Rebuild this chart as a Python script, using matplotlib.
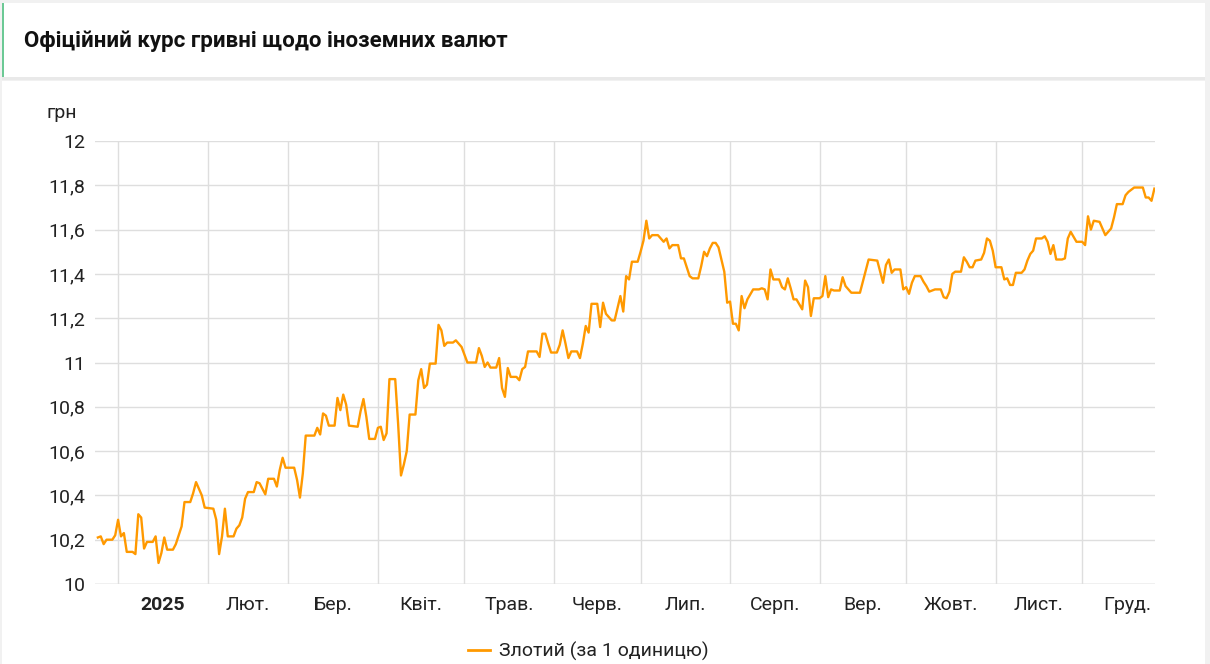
import matplotlib
matplotlib.use('Agg')
import matplotlib.pyplot as plt
from matplotlib.patches import Rectangle
from matplotlib.lines import Line2D
from matplotlib.ticker import FuncFormatter
import pandas as pd

# NBU rate, UAH per 1 PLN
dates = [
    "2024-12-25", "2024-12-26", "2024-12-27", "2024-12-28", "2024-12-30", "2024-12-31",
    "2025-01-01", "2025-01-02", "2025-01-03", "2025-01-04", "2025-01-06", "2025-01-07",
    "2025-01-08", "2025-01-09", "2025-01-10", "2025-01-11", "2025-01-13", "2025-01-14",
    "2025-01-15", "2025-01-16", "2025-01-17", "2025-01-18", "2025-01-20", "2025-01-21",
    "2025-01-22", "2025-01-23", "2025-01-24", "2025-01-26", "2025-01-27", "2025-01-28",
    "2025-01-30", "2025-01-31", "2025-02-03", "2025-02-04", "2025-02-05", "2025-02-06",
    "2025-02-07", "2025-02-08", "2025-02-10", "2025-02-11", "2025-02-12", "2025-02-13",
    "2025-02-14", "2025-02-15", "2025-02-17", "2025-02-18", "2025-02-19", "2025-02-21",
    "2025-02-22", "2025-02-24", "2025-02-25", "2025-02-26", "2025-02-27", "2025-02-28",
    "2025-03-03", "2025-03-04", "2025-03-05", "2025-03-06", "2025-03-07", "2025-03-10",
    "2025-03-11", "2025-03-12", "2025-03-13", "2025-03-14", "2025-03-15", "2025-03-17",
    "2025-03-18", "2025-03-19", "2025-03-20", "2025-03-21", "2025-03-22", "2025-03-25",
    "2025-03-26", "2025-03-27", "2025-03-28", "2025-03-29", "2025-03-31", "2025-04-01",
    "2025-04-02", "2025-04-03", "2025-04-04", "2025-04-05", "2025-04-07", "2025-04-08",
    "2025-04-09", "2025-04-10", "2025-04-11", "2025-04-12", "2025-04-14", "2025-04-15",
    "2025-04-16", "2025-04-17", "2025-04-18", "2025-04-19", "2025-04-21", "2025-04-22",
    "2025-04-23", "2025-04-24", "2025-04-25", "2025-04-27", "2025-04-28", "2025-04-30",
    "2025-05-01", "2025-05-02", "2025-05-05", "2025-05-06", "2025-05-07", "2025-05-08",
    "2025-05-09", "2025-05-10", "2025-05-12", "2025-05-13", "2025-05-14", "2025-05-15",
    "2025-05-16", "2025-05-17", "2025-05-19", "2025-05-20", "2025-05-21", "2025-05-22",
    "2025-05-23", "2025-05-26", "2025-05-27", "2025-05-28", "2025-05-29", "2025-05-30",
    "2025-05-31", "2025-06-02", "2025-06-03", "2025-06-04", "2025-06-05", "2025-06-06",
    "2025-06-07", "2025-06-09", "2025-06-10", "2025-06-11", "2025-06-12", "2025-06-13",
    "2025-06-14", "2025-06-16", "2025-06-17", "2025-06-18", "2025-06-19", "2025-06-21",
    "2025-06-22", "2025-06-24", "2025-06-25", "2025-06-26", "2025-06-27", "2025-06-28",
    "2025-06-30", "2025-07-01", "2025-07-02", "2025-07-03", "2025-07-04", "2025-07-05",
    "2025-07-07", "2025-07-08", "2025-07-09", "2025-07-10", "2025-07-11", "2025-07-12",
    "2025-07-14", "2025-07-15", "2025-07-16", "2025-07-18", "2025-07-19", "2025-07-21",
    "2025-07-22", "2025-07-23", "2025-07-24", "2025-07-25", "2025-07-26", "2025-07-27",
    "2025-07-28", "2025-07-29", "2025-07-30", "2025-07-31", "2025-08-01", "2025-08-02",
    "2025-08-03", "2025-08-04", "2025-08-05", "2025-08-06", "2025-08-07", "2025-08-09",
    "2025-08-11", "2025-08-12", "2025-08-13", "2025-08-14", "2025-08-15", "2025-08-16",
    "2025-08-18", "2025-08-19", "2025-08-20", "2025-08-21", "2025-08-22", "2025-08-23",
    "2025-08-24", "2025-08-26", "2025-08-27", "2025-08-28", "2025-08-29", "2025-08-30",
    "2025-09-01", "2025-09-02", "2025-09-03", "2025-09-04", "2025-09-05", "2025-09-06",
    "2025-09-08", "2025-09-09", "2025-09-10", "2025-09-12", "2025-09-15", "2025-09-16",
    "2025-09-17", "2025-09-18", "2025-09-21", "2025-09-23", "2025-09-24", "2025-09-25",
    "2025-09-26", "2025-09-27", "2025-09-29", "2025-09-30", "2025-10-01", "2025-10-02",
    "2025-10-03", "2025-10-04", "2025-10-06", "2025-10-07", "2025-10-08", "2025-10-09",
    "2025-10-11", "2025-10-13", "2025-10-14", "2025-10-15", "2025-10-16", "2025-10-17",
    "2025-10-18", "2025-10-20", "2025-10-21", "2025-10-22", "2025-10-23", "2025-10-24",
    "2025-10-25", "2025-10-27", "2025-10-28", "2025-10-29", "2025-10-30", "2025-10-31",
    "2025-11-01", "2025-11-03", "2025-11-04", "2025-11-05", "2025-11-06", "2025-11-07",
    "2025-11-08", "2025-11-10", "2025-11-11", "2025-11-12", "2025-11-13", "2025-11-14",
    "2025-11-15", "2025-11-17", "2025-11-18", "2025-11-19", "2025-11-20", "2025-11-21",
    "2025-11-22", "2025-11-24", "2025-11-25", "2025-11-26", "2025-11-27", "2025-11-29",
    "2025-12-01", "2025-12-02", "2025-12-03", "2025-12-04", "2025-12-05", "2025-12-07",
    "2025-12-09", "2025-12-10", "2025-12-11", "2025-12-12", "2025-12-13", "2025-12-15",
    "2025-12-16", "2025-12-17", "2025-12-19", "2025-12-22", "2025-12-23", "2025-12-24",
    "2025-12-25", "2025-12-26",
]
rates = [
    10.21, 10.215, 10.18, 10.20, 10.20, 10.22,
    10.29, 10.215, 10.23, 10.145, 10.145, 10.135,
    10.315, 10.30, 10.16, 10.19, 10.19, 10.215,
    10.095, 10.14, 10.21, 10.155, 10.155, 10.18,
    10.22, 10.26, 10.37, 10.37, 10.41, 10.46,
    10.40, 10.345, 10.34, 10.29, 10.135, 10.215,
    10.34, 10.215, 10.215, 10.25, 10.265, 10.30,
    10.385, 10.415, 10.415, 10.46, 10.455, 10.405,
    10.475, 10.475, 10.44, 10.515, 10.57, 10.525,
    10.525, 10.47, 10.39, 10.50, 10.67, 10.67,
    10.705, 10.675, 10.77, 10.76, 10.715, 10.715,
    10.84, 10.785, 10.855, 10.81, 10.715, 10.71,
    10.78, 10.835, 10.755, 10.655, 10.655, 10.705,
    10.71, 10.65, 10.68, 10.925, 10.925, 10.725,
    10.49, 10.54, 10.60, 10.765, 10.765, 10.92,
    10.97, 10.885, 10.90, 10.995, 10.995, 11.17,
    11.145, 11.075, 11.09, 11.09, 11.10, 11.07,
    11.035, 11.0, 11.0, 11.065, 11.03, 10.98,
    11.0, 10.977, 10.977, 11.02, 10.885, 10.845,
    10.975, 10.935, 10.935, 10.92, 10.97, 10.98,
    11.05, 11.05, 11.025, 11.13, 11.13, 11.085,
    11.045, 11.045, 11.08, 11.145, 11.085, 11.02,
    11.05, 11.05, 11.02, 11.085, 11.165, 11.135,
    11.265, 11.265, 11.16, 11.27, 11.22, 11.19,
    11.19, 11.30, 11.23, 11.39, 11.375, 11.455,
    11.455, 11.50, 11.55, 11.64, 11.56, 11.575,
    11.575, 11.56, 11.545, 11.56, 11.515, 11.53,
    11.53, 11.47, 11.47, 11.39, 11.38, 11.38,
    11.435, 11.50, 11.48, 11.515, 11.54, 11.54,
    11.52, 11.465, 11.41, 11.27, 11.275, 11.175,
    11.175, 11.145, 11.30, 11.245, 11.285, 11.33,
    11.33, 11.335, 11.33, 11.285, 11.42, 11.375,
    11.375, 11.34, 11.33, 11.38, 11.335, 11.285,
    11.285, 11.24, 11.37, 11.34, 11.21, 11.29,
    11.29, 11.30, 11.39, 11.295, 11.33, 11.325,
    11.325, 11.385, 11.345, 11.315, 11.315, 11.365,
    11.415, 11.465, 11.46, 11.36, 11.44, 11.465,
    11.405, 11.42, 11.42, 11.33, 11.34, 11.31,
    11.36, 11.39, 11.39, 11.365, 11.345, 11.32,
    11.33, 11.33, 11.295, 11.29, 11.32, 11.40,
    11.41, 11.41, 11.475, 11.455, 11.43, 11.43,
    11.46, 11.465, 11.495, 11.56, 11.55, 11.505,
    11.43, 11.43, 11.375, 11.38, 11.35, 11.35,
    11.405, 11.405, 11.42, 11.46, 11.49, 11.505,
    11.56, 11.56, 11.57, 11.545, 11.49, 11.53,
    11.465, 11.465, 11.47, 11.56, 11.59, 11.545,
    11.545, 11.53, 11.66, 11.60, 11.64, 11.635,
    11.575, 11.59, 11.605, 11.655, 11.715, 11.715,
    11.755, 11.77, 11.79, 11.79, 11.745, 11.745,
    11.73, 11.785,
]
month_labels = ["2025", "Лют.", "Бер.", "Квіт.", "Трав.", "Черв.",
                "Лип.", "Серп.", "Вер.", "Жовт.", "Лист.", "Груд."]
y_ticks = [10, 10.2, 10.4, 10.6, 10.8, 11, 11.2, 11.4, 11.6, 11.8, 12]

title = "Офіційний курс гривні щодо іноземних валют"
series_name = "Злотий (за 1 одиницю)"

plt.rcParams['font.family'] = ['Roboto', 'DejaVu Sans']

W, H = 1210, 664
fig = plt.figure(figsize=(W / 100, H / 100), dpi=100)
fig.patch.set_facecolor('#f1f1f1')


def box(x0, y0, x1, y1, color):
    # rectangle given in pixels from the top-left corner
    fig.patches.append(Rectangle((x0 / W, 1 - y1 / H), (x1 - x0) / W, (y1 - y0) / H,
                                 transform=fig.transFigure, facecolor=color,
                                 edgecolor='none', zorder=-10))


# page cards
box(2, 3, 1205, 80, '#e9e9e9')
box(2, 3, 1205, 77, 'white')
box(2, 3, 4, 77, '#6cc995')
box(2, 81, 1205, H, 'white')

fig.text(24 / W, 1 - 41 / H, title, fontsize=16, fontweight='bold',
         color='#111111', va='center', ha='left')

ax = fig.add_axes([95 / W, 1 - 584 / H, (1155 - 95) / W, (584 - 141) / H])
ax.set_zorder(5)
ax.set_facecolor('white')

dt = pd.to_datetime(dates)
ax.plot(dt, rates, color='#ff9900', lw=1.7, solid_joinstyle='round', zorder=3)

ax.set_xlim(dt[0] - pd.Timedelta(days=1), dt[-1] + pd.Timedelta(hours=5))
ax.set_ylim(y_ticks[0], y_ticks[-1])

month_starts = pd.date_range("2025-01-01", periods=13, freq="MS")
mids = month_starts[:-1] + (month_starts[1:] - month_starts[:-1]) / 2
ax.set_xticks(month_starts[:-1])
ax.set_xticklabels([])
ax.set_xticks(mids, minor=True)
ax.set_xticklabels(month_labels, minor=True)
ax.get_xticklabels(minor=True)[0].set_fontweight('bold')

ax.set_yticks(y_ticks)
ax.yaxis.set_major_formatter(FuncFormatter(lambda v, _: f"{v:g}".replace('.', ',')))

ax.tick_params(axis='both', which='both', length=0, labelsize=14, colors='#222222')
ax.tick_params(axis='y', pad=7)
ax.tick_params(axis='x', which='minor', pad=9)
ax.grid(True, which='major', color='#dedede', lw=1, zorder=0)
for s in ax.spines.values():
    s.set_visible(False)
ax.axhline(y_ticks[0], color='#cccccc', lw=1, zorder=1)

fig.text(47 / W, 1 - 113 / H, "грн", fontsize=14, color='#222222',
         va='center', ha='left')

handle = Line2D([], [], color='#ff9900', lw=2)
fig.legend([handle], [series_name], loc='center', bbox_to_anchor=(588 / W, 1 - 651 / H),
           frameon=False, fontsize=14, handlelength=1.15, handletextpad=0.45,
           labelcolor='#222222')

fig.savefig('out.png', dpi=100)
